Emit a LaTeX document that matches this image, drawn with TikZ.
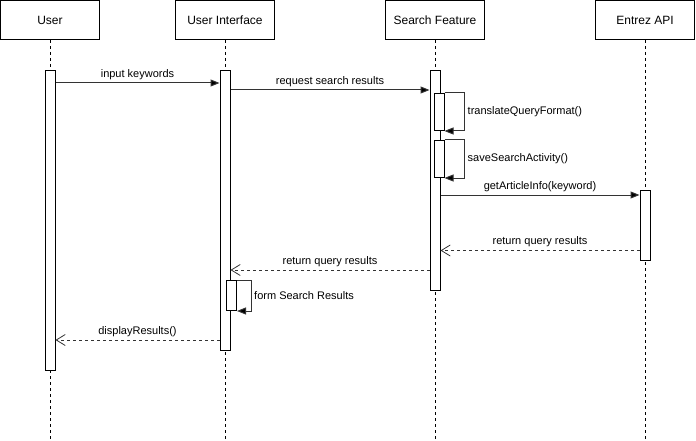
\documentclass[tikz,border=0pt]{standalone}
\usepackage{fontspec}
\setmainfont{Liberation Sans}
\usetikzlibrary{arrows.meta}

\tikzset{
  headbox/.style={draw, line width=1pt, fill=white, minimum width=99pt, minimum height=39pt,
                  inner sep=0pt, font=\fontsize{12}{14}\selectfont},
  lifeline/.style={line width=1pt, dash pattern=on 3pt off 3pt},
  actbox/.style={draw, line width=1pt, fill=white, minimum width=10pt, inner sep=0pt, anchor=north},
  callmsg/.style={line width=1pt, draw=black!80, -{Triangle[length=9pt,width=7pt,fill=black]}},
  replymsg/.style={line width=1pt, draw=black!80, dash pattern=on 3pt off 3pt,
                   -{Straight Barb[length=9pt,width=11pt,line width=0.8pt]}},
  msglabel/.style={font=\fontsize{11}{13}\selectfont, inner sep=0pt},
}

\begin{document}
\begin{tikzpicture}[x=1pt,y=-1pt]
  \useasboundingbox (0,0) rectangle (696,441);

  % participants
  \node[headbox] (user) at (50,20)  {User};
  \node[headbox] (ui)   at (225,20) {User Interface};
  \node[headbox] (sf)   at (435,20) {Search Feature};
  \node[headbox] (api)  at (645,20) {Entrez API};

  % lifeline ends
  \coordinate (userEnd) at (50,441);
  \coordinate (uiEnd)   at (225,441);
  \coordinate (sfEnd)   at (435,441);
  \coordinate (apiEnd)  at (645,441);

  \draw[lifeline] (user.south) -- (userEnd);
  \draw[lifeline] (ui.south)   -- (uiEnd);
  \draw[lifeline] (sf.south)   -- (sfEnd);
  \draw[lifeline] (api.south)  -- (apiEnd);

  % activation bars
  \node[actbox, minimum height=300pt] (actU)   at (50,70)  {};
  \node[actbox, minimum height=280pt] (actUI)  at (225,70) {};
  \node[actbox, minimum height=220pt] (actSF)  at (435,70) {};
  \node[actbox, minimum height=70pt]  (actAPI) at (645,190) {};
  \node[actbox, minimum height=37pt]  (actTQ)  at (439,93)  {};
  \node[actbox, minimum height=37pt]  (actSA)  at (439,140) {};
  \node[actbox, minimum height=30pt]  (actFR)  at (231.5,280) {};

  % message levels
  \coordinate (m1) at (0,83);
  \coordinate (m2) at (0,90);
  \coordinate (m3) at (0,195);
  \coordinate (m4) at (0,250.5);
  \coordinate (m5) at (0,270);
  \coordinate (m6) at (0,340);

  % input keywords
  \draw[callmsg] (actU.east |- m1) -- (actUI.west |- m1)
    node[msglabel, midway, yshift=8.5pt] {input keywords};
  % request search results
  \draw[callmsg] (actUI.east |- m2) -- (actSF.west |- m2)
    node[msglabel, midway, yshift=8.5pt] {request search results};
  % translateQueryFormat()
  \draw[callmsg] (actTQ.north east) -- ++(20,0) |- (actTQ.south east);
  \node[msglabel, anchor=west] (lblTQ) at ([xshift=23pt]actTQ.east) {translateQueryFormat()};
  % saveSearchActivity()
  \draw[callmsg] (actSA.north east) -- ++(20,0) |- (actSA.south east);
  \node[msglabel, anchor=west] (lblSA) at ([xshift=23pt]actSA.east) {saveSearchActivity()};
  % getArticleInfo(keyword)
  \draw[callmsg] (actSF.east |- m3) -- (actAPI.west |- m3)
    node[msglabel, midway, yshift=8pt] {getArticleInfo(keyword)};
  % return query results (API -> Search Feature)
  \draw[replymsg] (actAPI.west |- m4) -- (actSF.east |- m4)
    node[msglabel, midway, yshift=8.5pt] {return query results};
  % return query results (Search Feature -> UI)
  \draw[replymsg] (actSF.west |- m5) -- (actUI.east |- m5)
    node[msglabel, midway, yshift=8pt] {return query results};
  % form Search Results
  \draw[callmsg] (actFR.north east) -- ++(14,0) |- (actFR.south east);
  \node[msglabel, anchor=west] (lblFR) at ([xshift=17pt]actFR.east) {form Search Results};
  % displayResults()
  \draw[replymsg] (actUI.west |- m6) -- (actU.east |- m6)
    node[msglabel, midway, yshift=8pt] {displayResults()};
\end{tikzpicture}
\end{document}
